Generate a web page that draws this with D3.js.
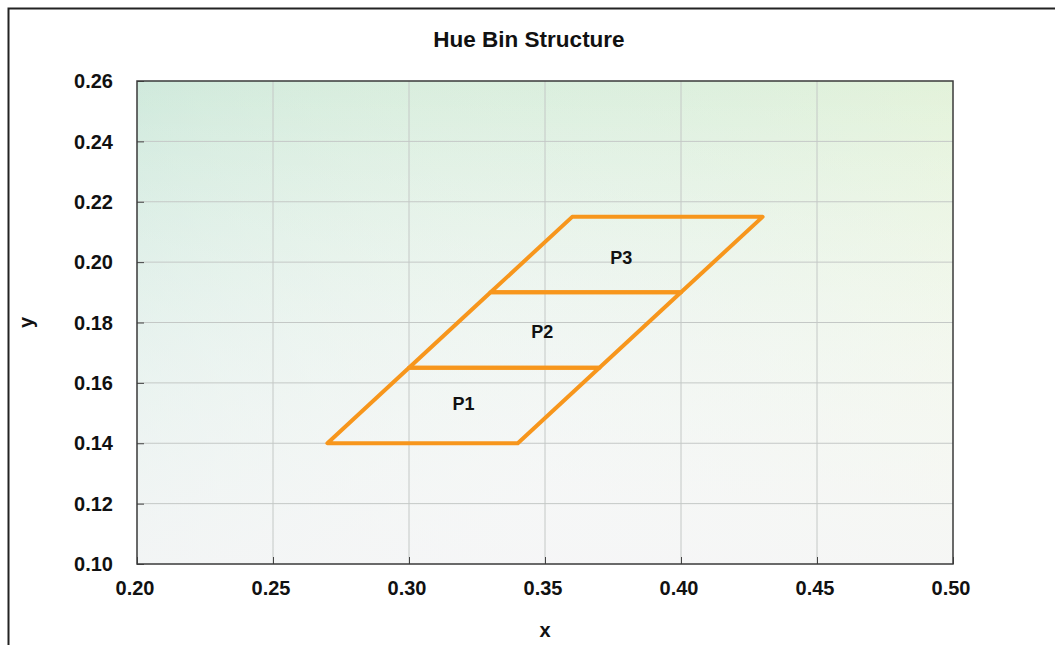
<!DOCTYPE html>
<html>
<head>
<meta charset="utf-8">
<script src="https://cdn.jsdelivr.net/npm/d3@7"></script>
<style>
  body { margin: 0; background: #fff; }
  svg text { font-family: "Liberation Sans", Arial, sans-serif; font-weight: bold; fill: #111; }
</style>
</head>
<body>
<div id="vis"></div>
<script>
// hue bins: each bin is a parallelogram between two y levels
var binNames = ["P1", "P2", "P3"],
    binBottomY = [0.14, 0.165, 0.19],
    binTopY = [0.165, 0.19, 0.215],
    bottomLeftX = [0.27, 0.30, 0.33],
    bottomRightX = [0.34, 0.37, 0.40],
    topLeftX = [0.30, 0.33, 0.36],
    topRightX = [0.37, 0.40, 0.43],
    labelX = [0.32, 0.349, 0.378],
    labelY = [0.153, 0.177, 0.2015],
    xTicks = [0.20, 0.25, 0.30, 0.35, 0.40, 0.45, 0.50],
    yTicks = [0.10, 0.12, 0.14, 0.16, 0.18, 0.20, 0.22, 0.24, 0.26];

var w = 1055,
    h = 645,
    pLeft = 137, pRight = 953, pTop = 81, pBottom = 564,
    x = d3.scaleLinear().domain([0.20, 0.50]).range([pLeft, pRight]),
    y = d3.scaleLinear().domain([0.10, 0.26]).range([pBottom, pTop]);

var svg = d3.select("#vis")
    .append("svg")
    .attr("width", w)
    .attr("height", h);

var defs = svg.append("defs");
var vg = defs.append("linearGradient").attr("id", "bgV")
    .attr("x1", 0).attr("y1", 0).attr("x2", 0).attr("y2", 1);
vg.append("stop").attr("offset", "0%").attr("stop-color", "#d8eedc");
vg.append("stop").attr("offset", "55%").attr("stop-color", "#eaf3ee");
vg.append("stop").attr("offset", "100%").attr("stop-color", "#f7f7f8");
var hg = defs.append("linearGradient").attr("id", "bgH")
    .attr("x1", 0).attr("y1", 0).attr("x2", 1).attr("y2", 0);
hg.append("stop").attr("offset", "0%").attr("stop-color", "#c9e6dc").attr("stop-opacity", 0.55);
hg.append("stop").attr("offset", "50%").attr("stop-color", "#e4f2e4").attr("stop-opacity", 0.2);
hg.append("stop").attr("offset", "100%").attr("stop-color", "#eef7d8").attr("stop-opacity", 0.5);
var fadeG = defs.append("linearGradient").attr("id", "bgFade")
    .attr("x1", 0).attr("y1", 0).attr("x2", 0).attr("y2", 1);
fadeG.append("stop").attr("offset", "0%").attr("stop-color", "#fff").attr("stop-opacity", 0);
fadeG.append("stop").attr("offset", "100%").attr("stop-color", "#f6f6f7").attr("stop-opacity", 0.85);

// outer frame (runs off the right and bottom edges)
svg.append("rect")
    .attr("x", 8.5).attr("y", 8.5)
    .attr("width", w + 20).attr("height", h + 20)
    .attr("fill", "none")
    .attr("stroke", "#222")
    .attr("stroke-width", 2);

// plot background
["bgV", "bgH", "bgFade"].forEach(function(id) {
    svg.append("rect")
        .attr("x", pLeft).attr("y", pTop)
        .attr("width", pRight - pLeft).attr("height", pBottom - pTop)
        .attr("fill", "url(#" + id + ")");
});

// grid
svg.selectAll(".vgrid")
    .data(xTicks.slice(1, -1))
    .enter().append("line")
    .attr("class", "vgrid")
    .attr("x1", function(d) { return x(d); })
    .attr("x2", function(d) { return x(d); })
    .attr("y1", pTop).attr("y2", pBottom)
    .attr("stroke", "#c4c8c6").attr("stroke-width", 1);

svg.selectAll(".hgrid")
    .data(yTicks.slice(1, -1))
    .enter().append("line")
    .attr("class", "hgrid")
    .attr("y1", function(d) { return y(d); })
    .attr("y2", function(d) { return y(d); })
    .attr("x1", pLeft).attr("x2", pRight)
    .attr("stroke", "#c4c8c6").attr("stroke-width", 1);

// axes with inward ticks
var xAxis = d3.axisTop(x).tickValues(xTicks).tickSize(7).tickFormat("");
svg.append("g")
    .attr("transform", "translate(0," + pBottom + ")")
    .call(xAxis)
    .call(function(g) {
        g.select(".domain").remove();
        g.selectAll(".tick line").attr("stroke", "#444").attr("stroke-width", 1);
    });

var yAxis = d3.axisRight(y).tickValues(yTicks).tickSize(7).tickFormat("");
svg.append("g")
    .attr("transform", "translate(" + pLeft + ",0)")
    .call(yAxis)
    .call(function(g) {
        g.select(".domain").remove();
        g.selectAll(".tick line").attr("stroke", "#444").attr("stroke-width", 1);
    });

svg.append("rect")
    .attr("x", pLeft).attr("y", pTop)
    .attr("width", pRight - pLeft).attr("height", pBottom - pTop)
    .attr("fill", "none")
    .attr("stroke", "#3a3a3a")
    .attr("stroke-width", 1.5);

// tick labels
svg.selectAll(".xLabel")
    .data(xTicks)
    .enter().append("text")
    .attr("class", "xLabel")
    .attr("x", function(d) { return x(d) - 2; })
    .attr("y", 595)
    .attr("text-anchor", "middle")
    .style("font-size", "20px")
    .text(d3.format(".2f"));

svg.selectAll(".yLabel")
    .data(yTicks)
    .enter().append("text")
    .attr("class", "yLabel")
    .attr("x", 113)
    .attr("y", function(d) { return y(d); })
    .attr("dy", "0.36em")
    .attr("text-anchor", "end")
    .style("font-size", "20px")
    .text(d3.format(".2f"));

// titles
svg.append("text")
    .attr("x", 529).attr("y", 46.5)
    .attr("text-anchor", "middle")
    .style("font-size", "22.5px")
    .text("Hue Bin Structure");

svg.append("text")
    .attr("x", (pLeft + pRight) / 2).attr("y", 637)
    .attr("text-anchor", "middle")
    .style("font-size", "20px")
    .text("x");

svg.append("text")
    .attr("transform", "translate(33," + ((pTop + pBottom) / 2) + ") rotate(-90)")
    .attr("text-anchor", "middle")
    .style("font-size", "20px")
    .text("y");

// bins
var bins = binNames.map(function(name, i) {
    return {
        name: name,
        pts: [[bottomLeftX[i], binBottomY[i]], [bottomRightX[i], binBottomY[i]],
              [topRightX[i], binTopY[i]], [topLeftX[i], binTopY[i]]],
        lx: labelX[i], ly: labelY[i]
    };
});

var line = d3.line()
    .x(function(d) { return x(d[0]); })
    .y(function(d) { return y(d[1]); })
    .curve(d3.curveLinearClosed);

svg.selectAll(".bin")
    .data(bins)
    .enter().append("path")
    .attr("class", "bin")
    .attr("d", function(d) { return line(d.pts); })
    .attr("fill", "none")
    .attr("stroke", "#f7961c")
    .attr("stroke-width", 4)
    .attr("stroke-linejoin", "round");

svg.selectAll(".binLabel")
    .data(bins)
    .enter().append("text")
    .attr("class", "binLabel")
    .attr("x", function(d) { return x(d.lx); })
    .attr("y", function(d) { return y(d.ly); })
    .attr("dy", "0.36em")
    .attr("text-anchor", "middle")
    .style("font-size", "18px")
    .text(function(d) { return d.name; });
</script>
</body>
</html>
